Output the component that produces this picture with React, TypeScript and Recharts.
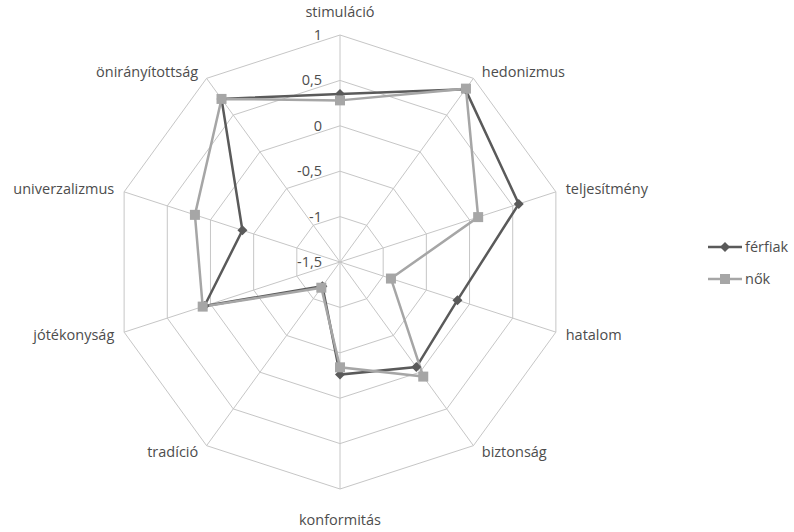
import React from "react"
import { RadarChart, Radar, PolarGrid, PolarAngleAxis, PolarRadiusAxis, Legend } from "recharts"

// axes, clockwise from the top
const categories = [
  "stimuláció",
  "hedonizmus",
  "teljesítmény",
  "hatalom",
  "biztonság",
  "konformitás",
  "tradíció",
  "jótékonyság",
  "univerzalizmus",
  "önirányítottság",
]
const ferfiak = [0.35, 0.85, 0.57, -0.14, -0.07, -0.26, -1.17, 0.07, -0.37, 0.72]
const nok = [0.28, 0.86, 0.1, -0.91, 0.06, -0.34, -1.15, 0.09, 0.18, 0.72]
const radiusTicks = [-1.5, -1, -0.5, 0, 0.5, 1]

const CX = 340
const CY = 262
const R = 227
const TEXT = "#4d4d4d"
const GRID = "#c6c6c6"
const DARK = "#5a5a5a"
const LIGHT = "#a6a6a6"
const FONT = "'Open Sans', sans-serif"
const FS = 14.5

const data = categories.map((c, i) => ({ name: c, ferfiak: ferfiak[i], nok: nok[i] }))

const AngleTick = (props: any) => {
  const angle = (props.payload.coordinate * Math.PI) / 180
  const cos = Math.cos(angle)
  const sin = Math.sin(angle)
  let x = CX + R * cos
  let y = CY - R * sin
  let anchor: "start" | "middle" | "end" = "middle"
  if (Math.abs(cos) < 0.01) {
    y += sin > 0 ? -23 : 31
  } else {
    anchor = cos > 0 ? "start" : "end"
    x += (cos > 0 ? 1 : -1) * (6 + 4 * Math.abs(cos))
    y += -8 * sin
  }
  return (
    <text x={x} y={y + 5} textAnchor={anchor} fill={TEXT} fontSize={FS} fontFamily={FONT}>
      {props.payload.value}
    </text>
  )
}

const RadiusTick = (props: any) => (
  <text x={props.x - 18} y={props.y + 5} textAnchor="end" fill={TEXT} fontSize={FS} fontFamily={FONT}>
    {String(props.payload.value).replace(".", ",")}
  </text>
)

const Diamond = (props: any) => {
  const { cx, cy, index } = props
  const s = 5
  return (
    <path
      key={"d" + index}
      d={`M${cx},${cy - s}L${cx + s},${cy}L${cx},${cy + s}L${cx - s},${cy}Z`}
      fill={DARK}
    />
  )
}

const Square = (props: any) => {
  const { cx, cy, index } = props
  return <rect key={"s" + index} x={cx - 5} y={cy - 5} width={10} height={10} fill={LIGHT} />
}

const LegendBox = () => (
  <svg width={90} height={60}>
    <line x1={2} y1={12} x2={36} y2={12} stroke={DARK} strokeWidth={2.5} />
    <path d="M19,7L24,12L19,17L14,12Z" fill={DARK} />
    <text x={39} y={17} fill={TEXT} fontSize={FS} fontFamily={FONT}>
      férfiak
    </text>
    <line x1={2} y1={44} x2={36} y2={44} stroke={LIGHT} strokeWidth={2.5} />
    <rect x={14} y={39} width={10} height={10} fill={LIGHT} />
    <text x={39} y={49} fill={TEXT} fontSize={FS} fontFamily={FONT}>
      nők
    </text>
  </svg>
)

export default function App() {
  return (
    <div style={{ position: "absolute", left: 0, top: 0, background: "#fff" }}>
      <RadarChart
        width={794}
        height={532}
        data={data}
        cx={CX}
        cy={CY}
        outerRadius={R}
        margin={{ top: 0, right: 0, bottom: 0, left: 0 }}
      >
        <PolarGrid gridType="polygon" stroke={GRID} strokeOpacity={1} />
        <PolarAngleAxis dataKey="name" tick={AngleTick} tickLine={false} axisLine={false} />
        <PolarRadiusAxis
          angle={90}
          domain={[-1.5, 1]}
          ticks={radiusTicks as any}
          tickCount={6}
          tick={RadiusTick}
          tickLine={false}
          axisLine={false}
        />
        <Radar
          name="férfiak"
          dataKey="ferfiak"
          stroke={DARK}
          strokeWidth={2.5}
          fill="none"
          fillOpacity={0}
          dot={Diamond}
          isAnimationActive={false}
        />
        <Radar
          name="nők"
          dataKey="nok"
          stroke={LIGHT}
          strokeWidth={2.5}
          fill="none"
          fillOpacity={0}
          dot={Square}
          isAnimationActive={false}
        />
        <Legend
          content={LegendBox}
          wrapperStyle={{ position: "absolute", left: 706, top: 235, width: 90 }}
        />
      </RadarChart>
    </div>
  )
}
